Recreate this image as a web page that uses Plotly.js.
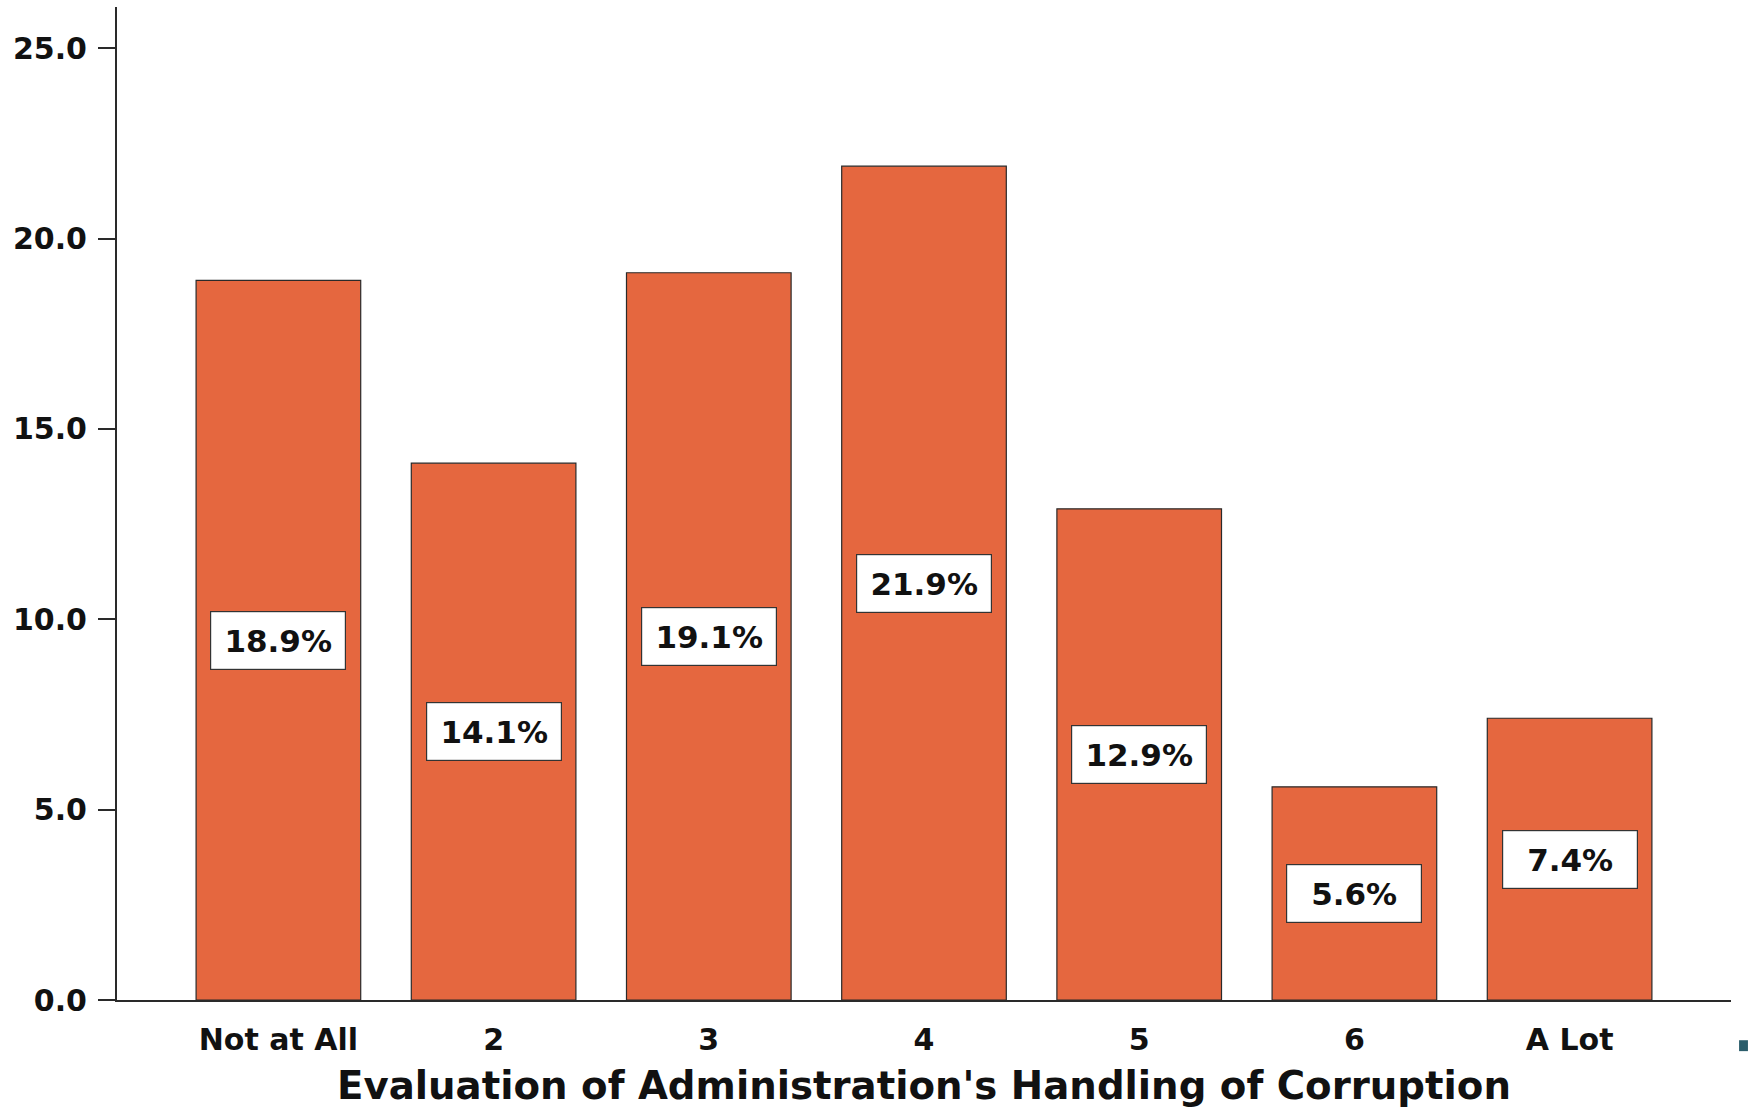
<!DOCTYPE html>
<html>
<head>
<meta charset="utf-8">
<script src="https://cdn.plot.ly/plotly-3.0.1.min.js"></script>
<style>
  html, body { margin: 0; padding: 0; background: #fff; }
  #chart { width: 1748px; height: 1108px; }
</style>
</head>
<body>
<div id="chart"></div>
<script>
const categories = ["Not at All", "2", "3", "4", "5", "6", "A Lot"];
const values = [18.9, 14.1, 19.1, 21.9, 12.9, 5.6, 7.4];
const labels = ["18.9%", "14.1%", "19.1%", "21.9%", "12.9%", "5.6%", "7.4%"];
const yTickValues = [0, 5, 10, 15, 20, 25];
const xTitle = "Evaluation of Administration's Handling of Corruption";

const FONT = "DejaVu Sans, Verdana, sans-serif";
const BAR_COLOR = "#E5673F";

const trace = {
  type: "bar",
  x: categories,
  y: values,
  width: 0.765,
  marker: { color: BAR_COLOR, line: { color: "#2a2a2a", width: 1.2 } },
  hoverinfo: "skip"
};

const annotations = categories.map((c, i) => ({
  x: i,
  y: values[i] / 2,
  xref: "x",
  yref: "y",
  text: labels[i],
  showarrow: false,
  bgcolor: "#ffffff",
  bordercolor: "#333333",
  borderwidth: 1.2,
  borderpad: 0,
  width: 134,
  height: 57,
  font: { family: FONT, size: 31, color: "#111", weight: "bold" },
  xanchor: "center",
  yanchor: "middle"
}));

const layout = {
  width: 1748,
  height: 1108,
  margin: { l: 117, r: 17, t: 7, b: 108 },
  paper_bgcolor: "#ffffff",
  plot_bgcolor: "#ffffff",
  showlegend: false,
  bargap: 0.235,
  xaxis: {
    type: "category",
    range: [-0.75, 6.75],
    showline: true,
    linecolor: "#2a2a2a",
    linewidth: 2,
    ticks: "",
    ticklabelstandoff: 12,
    showgrid: false,
    zeroline: false,
    tickfont: { family: FONT, size: 30, color: "#111", weight: "bold" },
    title: {
      text: xTitle,
      font: { family: FONT, size: 38.7, color: "#111", weight: "bold" },
      standoff: 21
    },
    fixedrange: true
  },
  yaxis: {
    range: [0, 26.08],
    tickvals: yTickValues,
    tickformat: ".1f",
    ticks: "outside",
    ticklen: 17,
    tickwidth: 2,
    tickcolor: "#2a2a2a",
    ticklabelstandoff: 5,
    showline: true,
    linecolor: "#2a2a2a",
    linewidth: 2,
    showgrid: false,
    zeroline: false,
    tickfont: { family: FONT, size: 30, color: "#111", weight: "bold" },
    fixedrange: true
  },
  annotations: annotations,
  shapes: [{
    type: "rect",
    xref: "paper", yref: "paper",
    x0: 1.005, x1: 1.0105, y0: -0.0515, y1: -0.0405,
    fillcolor: "#2b5d6b",
    line: { width: 0 }
  }]
};

Plotly.newPlot("chart", [trace], layout, { displayModeBar: false, staticPlot: true });
</script>
</body>
</html>
